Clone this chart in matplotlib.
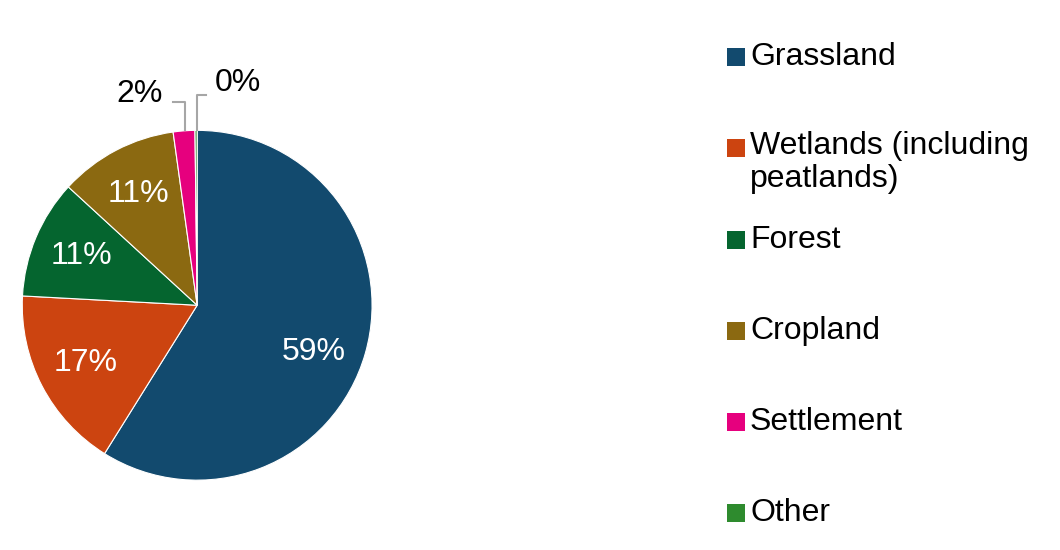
import matplotlib
matplotlib.use("Agg")
import matplotlib.pyplot as plt
from matplotlib.patches import Rectangle
import numpy as np

plt.rcParams["font.family"] = ["Liberation Sans", "DejaVu Sans"]

categories = ["Grassland", "Wetlands (including\npeatlands)", "Forest", "Cropland", "Settlement", "Other"]
shares = [59, 17, 11, 11, 2, 0.2]
labels = ["59%", "17%", "11%", "11%", "2%", "0%"]
colors = ["#124a6e", "#cc4410", "#05652f", "#8b6911", "#e6007e", "#2e8b2e"]

FS = 23

fig = plt.figure(figsize=(10.6, 5.5), dpi=100)
ax = fig.add_axes([0.021, 0.127, 0.33, 0.636])
wedges, _ = ax.pie(shares, colors=colors, startangle=90, counterclock=False,
                   wedgeprops=dict(edgecolor="white", linewidth=0.8))
ax.set_xlim(-1, 1)
ax.set_ylim(-1, 1)
ax.set_aspect("auto")

total = sum(shares)
angle = 90.0
for i, (s, lab) in enumerate(zip(shares, labels)):
    span = 360 * s / total
    mid = np.deg2rad(angle - span / 2)
    angle -= span
    if i == 0:
        mid = np.deg2rad(-22)
    if i < 4:
        r = 0.72
        ax.text(r * np.cos(mid), r * np.sin(mid), lab, color="white",
                fontsize=FS, ha="center", va="center")

# outside labels with leader lines
grey = "#a6a6a6"
ax.plot([-0.07, -0.07, -0.14], [1.0, 1.16, 1.16], color=grey, lw=1.5, clip_on=False)
ax.text(-0.33, 1.21, "2%", fontsize=FS, ha="center", va="center", clip_on=False)
ax.plot([0.0, 0.0, 0.05], [1.0, 1.2, 1.2], color=grey, lw=1.5, clip_on=False)
ax.text(0.23, 1.27, "0%", fontsize=FS, ha="center", va="center", clip_on=False)

# legend
rows_y = [57, 148, 240, 331, 422, 513]
for cat, col, y in zip(categories, colors, rows_y):
    fig.patches.append(Rectangle((727 / 1060, 1 - (y + 9) / 550), 18 / 1060, 18 / 550,
                                 transform=fig.transFigure, facecolor=col, edgecolor="none"))
    multi = "\n" in cat
    fig.text(750 / 1060, 1 - (131 if multi else y) / 550, cat, fontsize=FS, ha="left",
             va="top" if multi else "center", linespacing=1.15)

fig.savefig("out.png", dpi=100)
